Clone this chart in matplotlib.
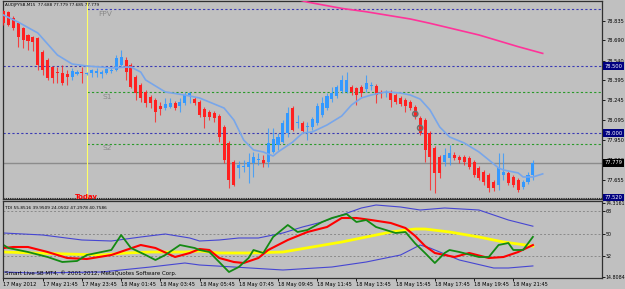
import matplotlib
matplotlib.use("Agg")
import matplotlib.pyplot as plt
import matplotlib.transforms as mtransforms
import numpy as np

# AUDJPYSB M15 candles, 17 May 19:45 -> 18 May 22:45
opens = [78.909, 78.902, 78.857, 78.820, 78.783, 78.731, 78.716, 78.708, 78.604, 78.545,
         78.492, 78.455, 78.448, 78.440, 78.418, 78.440, 78.455, 78.444, 78.448, 78.448,
         78.440, 78.448, 78.463, 78.470, 78.507, 78.545, 78.507, 78.418, 78.359, 78.307,
         78.269, 78.247, 78.202, 78.187, 78.195, 78.225, 78.202, 78.225, 78.284, 78.254,
         78.232, 78.180, 78.158, 78.150, 78.128, 78.046, 77.927, 77.786, 77.741, 77.749,
         77.749, 77.778, 77.801, 77.801, 77.786, 77.860, 77.912, 77.934, 78.001, 78.187,
         78.076, 78.076, 78.046, 78.046, 78.076, 78.135, 78.187, 78.254, 78.277, 78.314,
         78.307, 78.344, 78.336, 78.344, 78.329, 78.351, 78.351, 78.307, 78.299, 78.307,
         78.284, 78.262, 78.247, 78.232, 78.195, 78.113, 78.098, 78.001, 77.890, 77.823,
         77.786, 77.815, 77.838, 77.823, 77.823, 77.815, 77.786, 77.741, 77.711, 77.689,
         77.637, 77.615, 77.689, 77.704, 77.674, 77.652, 77.600, 77.637, 77.688]
highs = [78.917, 78.909, 78.872, 78.827, 78.790, 78.738, 78.723, 78.716, 78.619, 78.559,
         78.500, 78.492, 78.507, 78.470, 78.485, 78.470, 78.492, 78.455, 78.478, 78.485,
         78.470, 78.485, 78.485, 78.582, 78.619, 78.567, 78.522, 78.433, 78.373, 78.321,
         78.284, 78.262, 78.232, 78.262, 78.262, 78.240, 78.262, 78.307, 78.307, 78.269,
         78.247, 78.195, 78.173, 78.165, 78.143, 78.061, 77.942, 77.801, 77.793, 77.801,
         77.853, 77.860, 77.853, 77.838, 78.039, 78.039, 78.001, 78.098, 78.195, 78.202,
         78.135, 78.091, 78.083, 78.121, 78.225, 78.269, 78.299, 78.344, 78.359, 78.433,
         78.455, 78.359, 78.344, 78.359, 78.433, 78.381, 78.366, 78.321, 78.321, 78.321,
         78.299, 78.277, 78.262, 78.247, 78.210, 78.128, 78.113, 78.016, 77.905, 77.838,
         77.890, 77.912, 77.860, 77.838, 77.838, 77.830, 77.801, 77.756, 77.726, 77.704,
         77.652, 77.853, 77.853, 77.719, 77.689, 77.667, 77.652, 77.711, 77.801]
lows = [78.805, 78.798, 78.768, 78.641, 78.634, 78.619, 78.612, 78.470, 78.433, 78.396,
        78.373, 78.373, 78.359, 78.359, 78.396, 78.433, 78.373, 78.433, 78.418, 78.418,
        78.411, 78.440, 78.448, 78.463, 78.500, 78.396, 78.336, 78.247, 78.232, 78.195,
        78.187, 78.083, 78.135, 78.173, 78.187, 78.173, 78.158, 78.210, 78.225, 78.210,
        78.121, 78.039, 78.098, 78.083, 77.934, 77.778, 77.592, 77.607, 77.667, 77.711,
        77.630, 77.674, 77.763, 77.749, 77.749, 77.853, 77.875, 77.927, 77.972, 78.016,
        78.039, 78.001, 77.949, 78.024, 78.061, 78.121, 78.173, 78.232, 78.262, 78.299,
        78.299, 78.284, 78.210, 78.269, 78.307, 78.321, 78.225, 78.262, 78.269, 78.195,
        78.217, 78.202, 78.158, 78.173, 78.106, 77.987, 77.786, 77.578, 77.555, 77.667,
        77.756, 77.763, 77.801, 77.778, 77.763, 77.734, 77.674, 77.652, 77.615, 77.563,
        77.570, 77.578, 77.652, 77.615, 77.600, 77.563, 77.585, 77.622, 77.652]
closes = [78.820, 78.805, 78.783, 78.716, 78.693, 78.686, 78.678, 78.507, 78.470, 78.411,
          78.411, 78.448, 78.373, 78.418, 78.463, 78.455, 78.448, 78.448, 78.470, 78.463,
          78.455, 78.478, 78.470, 78.559, 78.567, 78.455, 78.344, 78.299, 78.262, 78.225,
          78.225, 78.158, 78.180, 78.217, 78.225, 78.187, 78.232, 78.284, 78.299, 78.225,
          78.135, 78.121, 78.121, 78.113, 77.972, 77.801, 77.652, 77.615, 77.763, 77.756,
          77.786, 77.823, 77.808, 77.778, 77.927, 77.957, 77.972, 78.076, 78.150, 78.024,
          78.083, 78.016, 78.054, 78.106, 78.202, 78.225, 78.277, 78.299, 78.344, 78.396,
          78.396, 78.307, 78.284, 78.299, 78.373, 78.359, 78.284, 78.292, 78.307, 78.247,
          78.232, 78.217, 78.202, 78.187, 78.121, 78.001, 77.875, 77.823, 77.704, 77.704,
          77.838, 77.853, 77.815, 77.801, 77.786, 77.749, 77.689, 77.667, 77.637, 77.592,
          77.592, 77.741, 77.711, 77.630, 77.615, 77.578, 77.637, 77.689, 77.779]

# quote shown in the chart header (O H L C)
header_quote = [77.688, 77.779, 77.685, 77.779]

# moving averages on price (bar index, price)
ma_bars = [0, 3, 7, 11, 14, 17, 20, 22, 25, 26, 28, 29, 33, 37, 40, 42, 45, 47, 49, 51,
           53, 55, 56, 59, 61, 63, 66, 69, 71, 73, 75, 78, 81, 83, 85, 87, 89, 91, 94, 97,
           99, 101, 102, 105, 106, 108, 110]
ma_vals = [78.879, 78.827, 78.746, 78.582, 78.515, 78.500, 78.492, 78.485, 78.492, 78.492,
           78.455, 78.396, 78.307, 78.284, 78.262, 78.232, 78.187, 78.098, 77.949, 77.875,
           77.860, 77.830, 77.860, 77.934, 78.001, 78.009, 78.061, 78.128, 78.210, 78.262,
           78.284, 78.307, 78.299, 78.284, 78.254, 78.173, 78.046, 77.972, 77.927, 77.860,
           77.801, 77.741, 77.726, 77.704, 77.674, 77.674, 77.697]
slow_bars = [60, 62, 69, 74, 83, 87, 97, 105, 110]
slow_vals = [78.995, 78.976, 78.929, 78.904, 78.850, 78.818, 78.731, 78.644, 78.594]

ring_bars = [84, 85]
ring_vals = [78.143, 78.039]

today_bar = 17
fpv, s1, s2 = 78.924, 78.307, 77.920
level_hi, level_lo = 78.500, 78.000
bid = 77.779
bottom_level = 77.520

price_ticks = [78.835, 78.690, 78.540, 78.395, 78.245, 78.095, 77.950, 77.800, 77.655]

time_labels = ["17 May 2012", "17 May 21:45", "17 May 23:45", "18 May 01:45", "18 May 03:45",
               "18 May 05:45", "18 May 07:45", "18 May 09:45", "18 May 11:45", "18 May 13:45",
               "18 May 15:45", "18 May 17:45", "18 May 19:45", "18 May 21:45"]

# TDI lines (bar index, value)
up_bars = [0, 8, 16, 22, 28, 33, 38, 40, 44, 48, 52, 57, 61, 65, 69, 73, 76, 81, 85, 90, 97, 100, 103, 108]
up_vals = [50.4, 48.8, 44.8, 44.0, 47.2, 49.6, 46.4, 44.0, 44.8, 46.4, 46.4, 50.4, 55.2, 59.2,
           64.8, 70.4, 72.8, 71.2, 68.8, 70.4, 68.8, 64.8, 60.8, 55.85]
lo_bars = [0, 6, 20, 30, 37, 40, 47, 57, 67, 74, 81, 85, 87, 93, 100, 103, 108]
lo_vals = [19.2, 18.4, 19.2, 23.2, 26.4, 24.8, 23.2, 20.8, 23.2, 27.2, 32.8, 40.8, 38.4, 28.8,
           22.4, 22.4, 24.05]
mid_bars = [0, 6, 13, 20, 25, 30, 37, 40, 44, 50, 57, 63, 69, 74, 79, 84, 86, 91, 97, 102, 105, 108]
mid_vals = [35.2, 34.4, 33.6, 32.8, 34.4, 35.2, 35.2, 36.0, 34.4, 34.4, 35.2, 39.2, 43.2, 47.2,
            51.2, 53.6, 53.6, 51.2, 47.2, 43.2, 41.6, 39.95]
rsi_bars = [0, 1, 5, 9, 12, 15, 17, 20, 22, 24, 26, 29, 31, 33, 36, 39, 40, 42, 44, 46,
            48, 50, 51, 53, 55, 58, 60, 62, 65, 67, 70, 72, 74, 76, 78, 80, 82, 84, 86, 88,
            90, 91, 93, 97, 99, 101, 103, 104, 106, 108]
rsi_vals = [40.8, 38.4, 35.2, 31.2, 27.2, 28.0, 32.8, 35.2, 36.8, 48.8, 38.4, 32.8, 28.8, 32.8,
            40.8, 38.4, 36.8, 35.2, 27.2, 19.2, 23.2, 30.4, 36.8, 34.4, 47.2, 56.8, 51.2, 52.8,
            59.2, 62.4, 65.6, 59.2, 60.8, 55.2, 52.8, 50.4, 51.2, 42.0, 34.4, 26.4, 34.4, 36.8,
            35.2, 31.2, 31.2, 40.8, 42.4, 36.8, 36.8, 47.3]
sig_bars = [0, 2, 5, 9, 13, 17, 22, 25, 28, 31, 35, 38, 40, 42, 44, 47, 49, 52, 54, 58,
            62, 66, 69, 72, 75, 79, 82, 84, 86, 88, 92, 95, 99, 102, 105, 108]
sig_vals = [38.4, 39.2, 39.2, 35.2, 30.4, 29.6, 32.8, 36.8, 40.8, 38.4, 31.2, 34.4, 37.6, 36.8,
            30.4, 27.2, 26.4, 30.4, 36.8, 44.8, 51.2, 55.2, 62.4, 62.4, 60.8, 58.4, 54.4, 48.0,
            40.0, 34.4, 31.2, 34.4, 30.4, 31.2, 35.2, 40.76]
tdi_levels = [68, 50, 32]
tdi_ticks = [74.3161, 68, 50, 32, 14.8084]
tdi_ticklabels = ["74.3161", "68", "50", "32", "14.8084"]

BG = "#c0c0c0"
RED = "#ff2020"
BLUE = "#3399ff"

W, H = 625, 289
fig = plt.figure(figsize=(W / 100, H / 100), dpi=100, facecolor=BG)
ax = fig.add_axes([3 / W, 1 - 199 / H, 599 / W, 198 / H], facecolor=BG)
ax2 = fig.add_axes([3 / W, 1 - 278 / H, 599 / W, 77 / H], facecolor=BG)

xmin, xmax = -0.1, 122.1

# ---- price panel ----
o, hi, lo, c = map(np.array, (opens, highs, lows, closes))
x = np.arange(len(o))
col = np.where(c >= o, BLUE, RED)
ax.vlines(x, lo, hi, colors=col, lw=0.8, alpha=0.8, zorder=3)
ax.bar(x, np.maximum(np.abs(c - o), 0.003), bottom=np.minimum(o, c), width=0.62,
       color=col, lw=0, zorder=4)

ax.plot(ma_bars, ma_vals, color="#78a6ea", lw=1.2, zorder=5)
ax.plot(slow_bars, slow_vals, color="#ff3399", lw=1.2, zorder=5)
ax.scatter(ring_bars, ring_vals, s=14, facecolors="none", edgecolors="#6e6e6e", lw=1.1, zorder=6)

dash = (0, (2, 2))
ax.axhline(level_hi, color="#3a3ab4", lw=0.8, ls=dash, zorder=2)
ax.axhline(level_lo, color="#3a3ab4", lw=0.8, ls=dash, zorder=2)
ax.axhline(bid, color="#8c8c8c", lw=1.0, zorder=2)
ax.axhline(bottom_level, color="#202020", lw=0.8, ls=(0, (1, 1)), zorder=2)
ax.hlines(fpv, today_bar, xmax, color="#3a3ab4", lw=0.8, ls=dash, zorder=2)
ax.hlines([s1, s2], today_bar, xmax, color="#2a9a2a", lw=0.8, ls=dash, zorder=2)
ax.axvline(today_bar, color="#ffff66", lw=0.8, zorder=2)

ax.text(20.7, fpv - 0.037, "FPV", color="#8a8a8a", fontsize=5.4, ha="center", va="center")
ax.text(21.1, s1 - 0.038, "S1", color="#8a8a8a", fontsize=5.4, ha="center", va="center")
ax.text(21.1, s2 - 0.034, "S2", color="#8a8a8a", fontsize=5.4, ha="center", va="center")
ax.text(today_bar, 77.524, "Today", color="#ff0000", fontsize=5.0, fontweight="bold",
        ha="center", va="center", clip_on=True, zorder=7)
ax.text(0.3, 78.955, "AUDJPYSB,M15  %.3f %.3f %.3f %.3f" % tuple(header_quote),
        fontsize=3.0, color="black", ha="left", va="center")

ax.set_xlim(xmin, xmax)
ax.set_ylim(77.510, 78.984)
ax.set_xticks([])
ax.yaxis.tick_right()
ax.set_yticks(price_ticks)
ax.set_yticklabels(["%.3f" % p for p in price_ticks])
ax.tick_params(axis="y", length=2, width=0.6, pad=1, labelsize=3.7, colors="black")

trans = mtransforms.blended_transform_factory(ax.transAxes, ax.transData)
for lvl, fc in [(level_hi, "#000080"), (level_lo, "#000080"), (bid, "#000000"), (bottom_level, "#000080")]:
    ax.text(1.004, lvl, "%.3f" % lvl, transform=trans, fontsize=3.7, color="white",
            ha="left", va="center", zorder=10, clip_on=False,
            bbox=dict(boxstyle="square,pad=0.25", fc=fc, ec="none"))

for s in ax.spines.values():
    s.set_color("#303030")
    s.set_linewidth(0.9)

# ---- TDI panel ----
ax2.plot(up_bars, up_vals, color="#4646d2", lw=0.8)
ax2.plot(lo_bars, lo_vals, color="#4646d2", lw=0.8)
ax2.plot(mid_bars, mid_vals, color="#ffff00", lw=2.0)
ax2.plot(sig_bars, sig_vals, color="#ff0000", lw=1.5)
ax2.plot(rsi_bars, rsi_vals, color="#138a13", lw=1.3)
for lv in tdi_levels:
    ax2.axhline(lv, color="#8a8a8a", lw=0.7, ls=dash, zorder=1)

ax2.text(0.3, 70.4, "TDI 55.8516 39.9509 24.0502 47.2978 40.7586", fontsize=3.1,
         color="black", ha="left", va="center")
ax2.text(0.3, 18.4, "Smart Live SB MT4, \u00a9 2001-2012, MetaQuotes Software Corp.",
         fontsize=4.0, color="black", ha="left", va="center")

ax2.set_xlim(xmin, xmax)
ax2.set_ylim(14.4, 76.0)
ax2.yaxis.tick_right()
ax2.set_yticks(tdi_ticks)
ax2.set_yticklabels(tdi_ticklabels)
ax2.tick_params(axis="y", length=2, width=0.6, pad=0.8, labelsize=3.4, colors="black")
ax2.set_xticks(np.arange(len(time_labels)) * 8)
ax2.set_xticklabels(time_labels, ha="left")
ax2.tick_params(axis="x", length=2, width=0.6, pad=1, labelsize=3.7, colors="black")
for s in ax2.spines.values():
    s.set_color("#303030")
    s.set_linewidth(0.9)

fig.savefig("out.png", dpi=100, facecolor=BG)
